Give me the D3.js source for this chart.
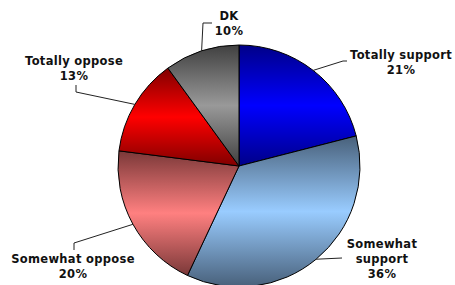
<!DOCTYPE html>
<html>
<head>
<meta charset="utf-8">
<script src="https://cdn.jsdelivr.net/npm/d3@7"></script>
<style>
  body { margin: 0; background: #fff; }
  svg { display: block; }
  .lbl { font-family: "DejaVu Sans", Verdana, sans-serif; font-weight: bold; font-size: 11.5px; letter-spacing: 0.3px; fill: #111; }
</style>
</head>
<body>
<div id="chart"></div>
<script>
// answers, clockwise from 12 o'clock
const categories = ["Totally support", "Somewhat support", "Somewhat oppose", "Totally oppose", "DK"];
const shares = [21, 36, 20, 13, 10];
const labelLines = [["Totally support"], ["Somewhat", "support"], ["Somewhat oppose"], ["Totally oppose"], ["DK"]];

// dark edge / light middle of each slice's vertical gradient
const darkColors = ["#000088", "#48607a", "#7a3838", "#800000", "#404040"];
const lightColors = ["#0000ff", "#99ccff", "#ff8080", "#ff0000", "#999999"];

const width = 455, height = 285;
const cx = 239, cy = 166, radius = 121;

// where each label block sits and how its leader bends (relative to pie centre)
const labelLayout = [
  { x: 162, y: -107, elbow: [104, -105], end: [108, -105] },
  { x: 143, y: 82, elbow: [103, 92], end: [103, 92] },
  { x: -166, y: 97, elbow: [-165, 77], end: [-165, 84] },
  { x: -165, y: -101, elbow: [-163, -74], end: [-163, -81] },
  { x: -10, y: -146, elbow: [-36, -143], end: [-27, -143] }
];

const data = categories.map((c, i) => ({ name: c, value: shares[i], lines: labelLines[i], i }));

const svg = d3.select("#chart").append("svg")
  .attr("width", width)
  .attr("height", height);

const defs = svg.append("defs");
data.forEach(d => {
  const g = defs.append("linearGradient")
    .attr("id", "grad" + d.i)
    .attr("x1", 0).attr("y1", 0).attr("x2", 0).attr("y2", 1);
  g.append("stop").attr("offset", "0%").attr("stop-color", darkColors[d.i]);
  g.append("stop").attr("offset", "50%").attr("stop-color", lightColors[d.i]);
  g.append("stop").attr("offset", "100%").attr("stop-color", darkColors[d.i]);
});

const pie = d3.pie().sort(null).value(d => d.value);
const arc = d3.arc().innerRadius(0).outerRadius(radius);
const arcs = pie(data);

const g = svg.append("g").attr("transform", `translate(${cx},${cy})`);

g.selectAll("path.slice")
  .data(arcs)
  .enter()
  .append("path")
  .attr("class", "slice")
  .attr("d", arc)
  .attr("fill", d => `url(#grad${d.data.i})`)
  .attr("stroke", "#000")
  .attr("stroke-width", 1);

// leader lines from the middle of each slice's rim
g.selectAll("polyline")
  .data(arcs)
  .enter()
  .append("polyline")
  .attr("fill", "none")
  .attr("stroke", "#222")
  .attr("stroke-width", 1)
  .attr("points", d => {
    const a = (d.startAngle + d.endAngle) / 2;
    const start = [Math.sin(a) * radius, -Math.cos(a) * radius];
    const lay = labelLayout[d.data.i];
    return [start, lay.elbow, lay.end].map(p => p.join(",")).join(" ");
  });

const lineH = 15;
const labels = g.selectAll("text.lbl")
  .data(arcs)
  .enter()
  .append("text")
  .attr("class", "lbl")
  .attr("text-anchor", "middle");

labels.each(function (d) {
  const lay = labelLayout[d.data.i];
  const rows = d.data.lines.concat([d3.format(".0f")(d.data.value) + "%"]);
  const t = d3.select(this);
  rows.forEach((r, k) => {
    t.append("tspan")
      .attr("x", lay.x)
      .attr("y", lay.y + k * lineH)
      .text(r);
  });
});
</script>
</body>
</html>
